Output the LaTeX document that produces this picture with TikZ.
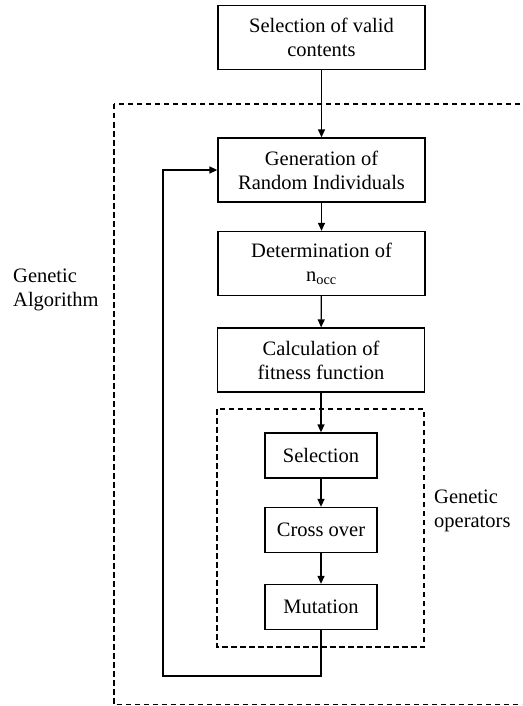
\documentclass[tikz,border=0pt]{standalone}
\usepackage{fontspec}
\setmainfont{Liberation Serif}
\usetikzlibrary{arrows.meta}

\tikzset{
	box/.style={draw, line width=1.3pt, align=center, inner sep=0pt,
		font=\fontsize{20.5}{24}\selectfont},
	bigbox/.style={box, minimum width=207pt, minimum height=64pt},
	opbox/.style={box, minimum width=112pt, minimum height=45pt},
	frame/.style={draw, line width=1.3pt, dash pattern=on 5.5pt off 3.5pt},
	lbl/.style={align=left, inner sep=0pt, font=\fontsize{20.5}{24}\selectfont},
	>={Triangle[length=8pt, width=7pt]}
}

\begin{document}
\begin{tikzpicture}[x=1pt, y=-1pt]
\clip (0,0) rectangle (522,706);

% FRAMES
\draw[frame] (114,104) rectangle (540,704.5);
\draw[frame] (217,409) rectangle (424,647);

% NODES
\node[bigbox] (sel) at(321.5, 37.5) {Selection of valid\\contents};
\node[bigbox] (gen) at(321.5, 170) {Generation of\\Random Individuals};
\node[bigbox] (det) at(321.5, 263.5) {Determination of\\n\textsubscript{occ}};
\node[bigbox] (fit) at(321, 360) {Calculation of\\fitness function};

\node[opbox] (selop) at(321, 455.5) {Selection};
\node[opbox] (cross) at(321, 530) {Cross over};
\node[opbox] (mut) at(321, 607) {Mutation};

\node[lbl, anchor=west] (ga) at(13, 290) {Genetic\\Algorithm};
\node[lbl, anchor=west] (go) at(434, 511) {Genetic\\operators};

\coordinate (back) at(163, 676);

% ARCS
\foreach \u \v in{
	sel/gen, gen/det, det/fit, fit/selop, selop/cross, cross/mut%
}{
	\draw[->, line width=1.3pt] (\u) -- (\v);
}

\draw[->, line width=1.3pt] (mut.south) |- (back) |- (gen.west);

\end{tikzpicture}
\end{document}
